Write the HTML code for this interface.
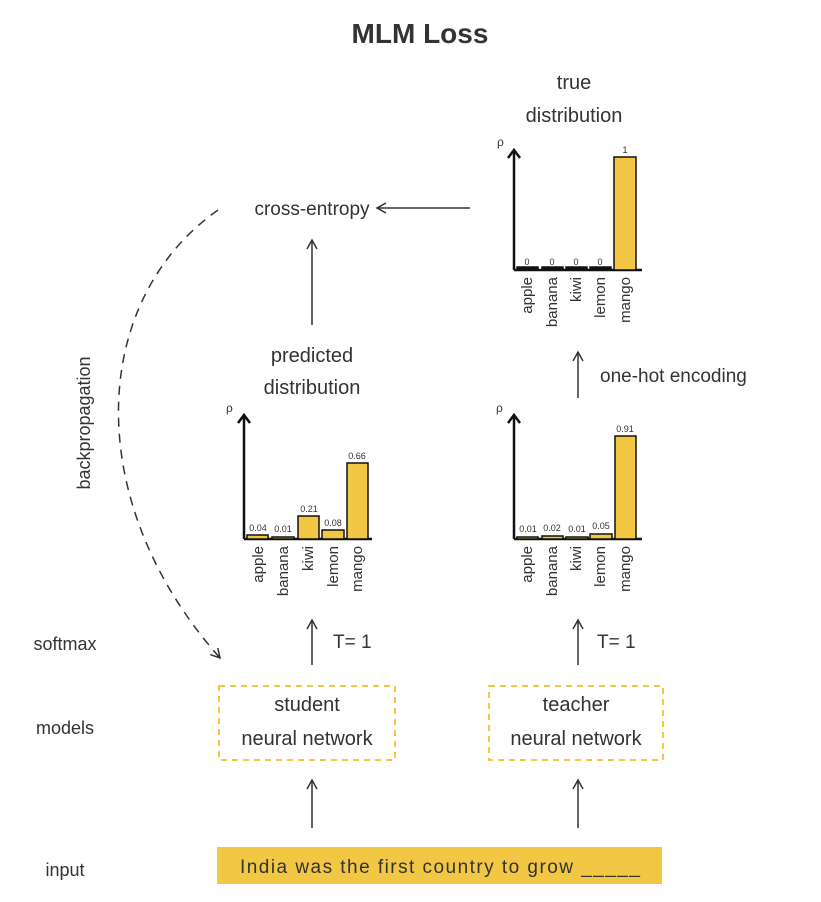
<!DOCTYPE html>
<html><head><style>
html,body{margin:0;padding:0;background:#fff;}
svg{display:block;}
text{font-family:"Liberation Sans",sans-serif;fill:#333;}
</style></head><body>
<svg width="821" height="902" viewBox="0 0 821 902" xmlns="http://www.w3.org/2000/svg">
<defs>
<marker id="ah" markerWidth="12" markerHeight="12" refX="10" refY="6" orient="auto" markerUnits="userSpaceOnUse">
<path d="M1,1 L10,6 L1,11" fill="none" stroke="#333" stroke-width="1.5"/>
</marker>
</defs>
<text x="420" y="43" font-size="28" font-weight="bold" text-anchor="middle" fill="#111">MLM Loss</text>

<text x="574" y="89" font-size="20" text-anchor="middle">true</text>
<text x="574" y="122" font-size="20" text-anchor="middle">distribution</text>

<g stroke="#111" stroke-width="2.5" fill="none">
<line x1="514" y1="270" x2="514" y2="150"/>
<path d="M508,158 L514,150 L520,158"/>
<line x1="514" y1="270" x2="642" y2="270"/>
</g>
<text x="497" y="146" font-size="12">ρ</text>
<g stroke="#111" stroke-width="1.5">
<rect x="517" y="267" width="21" height="3" fill="#111"/>
<rect x="542" y="267" width="21" height="3" fill="#111"/>
<rect x="566" y="267" width="21" height="3" fill="#111"/>
<rect x="590" y="267" width="21" height="3" fill="#111"/>
<rect x="614" y="157" width="22" height="113" fill="#f2c744"/>
</g>
<g font-size="9" text-anchor="middle">
<text x="527" y="265" fill="#777">0</text><text x="552" y="265" fill="#777">0</text><text x="576" y="265" fill="#777">0</text><text x="600" y="265" fill="#777">0</text><text x="625" y="153" fill="#777">1</text>
</g>
<g font-size="15" text-anchor="end">
<text transform="translate(532,277) rotate(-90)">apple</text>
<text transform="translate(557,277) rotate(-90)">banana</text>
<text transform="translate(581,277) rotate(-90)">kiwi</text>
<text transform="translate(605,277) rotate(-90)">lemon</text>
<text transform="translate(630,277) rotate(-90)">mango</text>
</g>

<text x="312" y="215" font-size="19" text-anchor="middle" fill="#444">cross-entropy</text>
<line x1="470" y1="208" x2="377" y2="208" stroke="#333" stroke-width="1.5" marker-end="url(#ah)"/>
<line x1="312" y1="325" x2="312" y2="240" stroke="#333" stroke-width="1.5" marker-end="url(#ah)"/>

<text x="312" y="362" font-size="20" text-anchor="middle">predicted</text>
<text x="312" y="394" font-size="20" text-anchor="middle">distribution</text>

<g stroke="#111" stroke-width="2.5" fill="none">
<line x1="244" y1="539" x2="244" y2="415"/>
<path d="M238,423 L244,415 L250,423"/>
<line x1="244" y1="539" x2="372" y2="539"/>
</g>
<text x="226" y="412" font-size="12">ρ</text>
<g stroke="#111" stroke-width="1.5" fill="#f2c744">
<rect x="247" y="535" width="21" height="4"/>
<rect x="272" y="537" width="22" height="2"/>
<rect x="298" y="516" width="21" height="23"/>
<rect x="322" y="530" width="22" height="9"/>
<rect x="347" y="463" width="21" height="76"/>
</g>
<g font-size="9" text-anchor="middle">
<text x="258" y="531" fill="#777">0.04</text><text x="283" y="532" fill="#777">0.01</text><text x="309" y="512" fill="#777">0.21</text><text x="333" y="526" fill="#777">0.08</text><text x="357" y="459" fill="#777">0.66</text>
</g>
<g font-size="15" text-anchor="end">
<text transform="translate(263,546) rotate(-90)">apple</text>
<text transform="translate(288,546) rotate(-90)">banana</text>
<text transform="translate(313,546) rotate(-90)">kiwi</text>
<text transform="translate(338,546) rotate(-90)">lemon</text>
<text transform="translate(362,546) rotate(-90)">mango</text>
</g>

<g stroke="#111" stroke-width="2.5" fill="none">
<line x1="514" y1="539" x2="514" y2="415"/>
<path d="M508,423 L514,415 L520,423"/>
<line x1="514" y1="539" x2="642" y2="539"/>
</g>
<text x="496" y="412" font-size="12">ρ</text>
<g stroke="#111" stroke-width="1.5" fill="#f2c744">
<rect x="517" y="537" width="21" height="2"/>
<rect x="542" y="536" width="21" height="3"/>
<rect x="566" y="537" width="22" height="2"/>
<rect x="590" y="534" width="22" height="5"/>
<rect x="615" y="436" width="21" height="103"/>
</g>
<g font-size="9" text-anchor="middle">
<text x="528" y="532" fill="#777">0.01</text><text x="552" y="531" fill="#777">0.02</text><text x="577" y="532" fill="#777">0.01</text><text x="601" y="529" fill="#777">0.05</text><text x="625" y="432" fill="#777">0.91</text>
</g>
<g font-size="15" text-anchor="end">
<text transform="translate(532,546) rotate(-90)">apple</text>
<text transform="translate(557,546) rotate(-90)">banana</text>
<text transform="translate(581,546) rotate(-90)">kiwi</text>
<text transform="translate(605,546) rotate(-90)">lemon</text>
<text transform="translate(630,546) rotate(-90)">mango</text>
</g>

<line x1="578" y1="398" x2="578" y2="352" stroke="#333" stroke-width="1.5" marker-end="url(#ah)"/>
<text x="600" y="382" font-size="19">one-hot encoding</text>

<text x="65" y="650" font-size="18" text-anchor="middle">softmax</text>
<text x="65" y="734" font-size="18" text-anchor="middle">models</text>
<text x="65" y="876" font-size="18" text-anchor="middle">input</text>
<text transform="translate(90,423) rotate(-90)" font-size="18" text-anchor="middle">backpropagation</text>

<path d="M218,210 C90,300 80,500 220,658" fill="none" stroke="#333" stroke-width="1.5" stroke-dasharray="9,7" marker-end="url(#ah)"/>

<line x1="312" y1="665" x2="312" y2="620" stroke="#333" stroke-width="1.5" marker-end="url(#ah)"/>
<text x="333" y="648" font-size="19">T= 1</text>
<line x1="578" y1="665" x2="578" y2="620" stroke="#333" stroke-width="1.5" marker-end="url(#ah)"/>
<text x="597" y="648" font-size="19">T= 1</text>

<rect x="219" y="686" width="176" height="74" fill="none" stroke="#f2c744" stroke-width="2" stroke-dasharray="6,5"/>
<text x="307" y="711" font-size="20" text-anchor="middle">student</text>
<text x="307" y="745" font-size="20" text-anchor="middle">neural network</text>
<rect x="489" y="686" width="174" height="74" fill="none" stroke="#f2c744" stroke-width="2" stroke-dasharray="6,5"/>
<text x="576" y="711" font-size="20" text-anchor="middle">teacher</text>
<text x="576" y="745" font-size="20" text-anchor="middle">neural network</text>

<line x1="312" y1="828" x2="312" y2="780" stroke="#333" stroke-width="1.5" marker-end="url(#ah)"/>
<line x1="578" y1="828" x2="578" y2="780" stroke="#333" stroke-width="1.5" marker-end="url(#ah)"/>

<rect x="217" y="847" width="445" height="37" fill="#f2c744"/>
<text x="240" y="873" font-size="19" fill="#222" textLength="400" lengthAdjust="spacing">India was the first country to grow _____</text>
</svg>
</body></html>
